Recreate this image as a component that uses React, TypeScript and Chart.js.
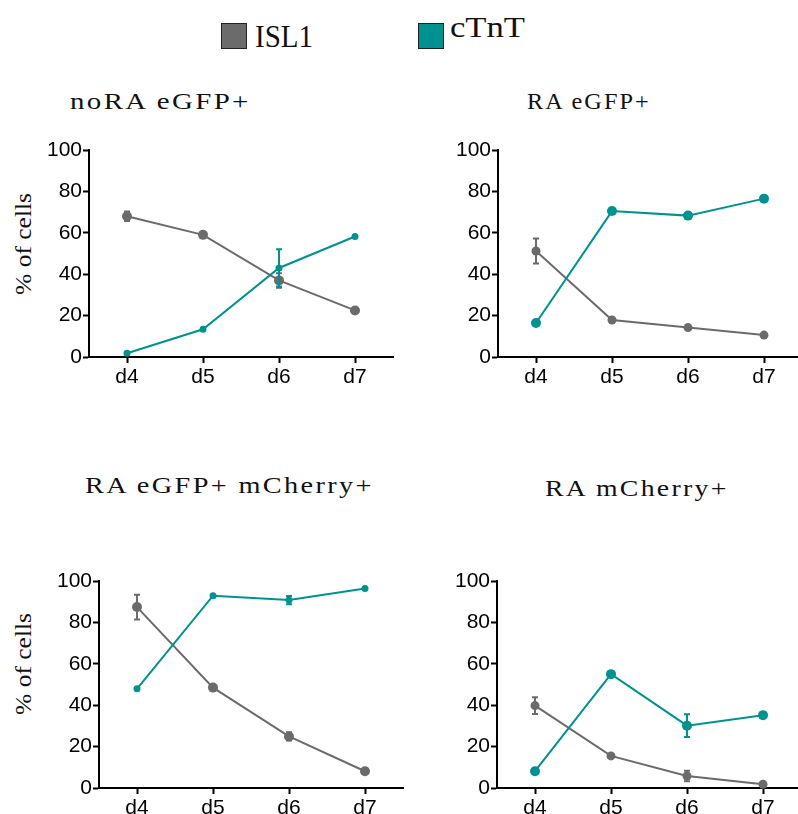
import React, { useEffect, useRef } from 'react';
import { Chart, registerables } from 'chart.js';

Chart.register(...registerables);

// ---------- data ----------
const categories = ['d4', 'd5', 'd6', 'd7'];
const yTickValues = [0, 20, 40, 60, 80, 100];
const seriesNames = ['ISL1', 'cTnT'];
const panelTitles = ['noRA eGFP+', 'RA eGFP+', 'RA eGFP+ mCherry+', 'RA mCherry+'];
const yAxisTitle = '% of cells';

const noRaIsl1 = [68, 59, 37, 22.5];
const noRaIsl1Err = [2.3, 0, 3.5, 0];
const noRaCtnt = [1.8, 13.4, 43, 58.2];
const noRaCtntErr = [0, 0, 9, 0];

const raEgfpIsl1 = [51.2, 17.9, 14.2, 10.6];
const raEgfpIsl1Err = [6, 0, 0, 0];
const raEgfpCtnt = [16.4, 70.5, 68.3, 76.5];
const raEgfpCtntErr = [0, 0, 0, 0];

const raBothIsl1 = [87.4, 48.5, 24.9, 8.1];
const raBothIsl1Err = [6, 0, 2, 0];
const raBothCtnt = [47.9, 92.9, 90.8, 96.4];
const raBothCtntErr = [0, 0, 2, 0];

const raMchIsl1 = [39.8, 15.5, 5.8, 1.8];
const raMchIsl1Err = [4, 0, 2.5, 0];
const raMchCtnt = [8.1, 55, 30.1, 35.2];
const raMchCtntErr = [0, 0, 5.5, 0];

// ---------- styles ----------
const GRAY = '#6b6b6b';
const TEAL = '#009191';
const SERIF = "'Liberation Serif', 'Times New Roman', serif";
const SANS = "'Liberation Sans', Arial, sans-serif";

const AXIS_W = 89;
const PLOT_W = 309;
const PLOT_H = 207;
const PAD_TOP = 20;
const X_AXIS_H = 45;

const errorBarPlugin = {
  id: 'errorBars',
  beforeDatasetDraw(chart: any, args: any) {
    const ds: any = chart.data.datasets[args.index];
    const errs: number[] | undefined = ds.errors;
    if (!errs) return;
    const yScale = chart.scales.y;
    const ctx = chart.ctx;
    ctx.save();
    ctx.strokeStyle = ds.borderColor;
    ctx.lineWidth = 2;
    args.meta.data.forEach((pt: any, i: number) => {
      const e = errs[i];
      if (!e) return;
      const v = ds.data[i];
      const yT = yScale.getPixelForValue(v + e);
      const yB = yScale.getPixelForValue(v - e);
      const x = pt.x;
      ctx.beginPath();
      ctx.moveTo(x, yT);
      ctx.lineTo(x, yB);
      ctx.moveTo(x - 3, yT);
      ctx.lineTo(x + 3, yT);
      ctx.moveTo(x - 3, yB);
      ctx.lineTo(x + 3, yB);
      ctx.stroke();
    });
    ctx.restore();
  },
};

type PanelProps = {
  axisX: number;
  chartTop: number;
  isl1: number[];
  isl1Err: number[];
  ctnt: number[];
  ctntErr: number[];
  isl1R: number;
  ctntR: number;
};

function Panel(p: PanelProps) {
  const ref = useRef<HTMLCanvasElement | null>(null);
  useEffect(() => {
    if (!ref.current) return;
    const tickFont = { family: SANS, size: 21 };
    const chart = new Chart(ref.current, {
      type: 'line',
      data: {
        labels: categories,
        datasets: [
          {
            label: seriesNames[0],
            data: p.isl1,
            errors: p.isl1Err,
            borderColor: GRAY,
            backgroundColor: GRAY,
            pointBackgroundColor: GRAY,
            pointBorderWidth: 0,
            pointRadius: p.isl1R,
            borderWidth: 2,
            tension: 0,
            order: 1,
            clip: false,
          } as any,
          {
            label: seriesNames[1],
            data: p.ctnt,
            errors: p.ctntErr,
            borderColor: TEAL,
            backgroundColor: TEAL,
            pointBackgroundColor: TEAL,
            pointBorderWidth: 0,
            pointRadius: p.ctntR,
            borderWidth: 2,
            tension: 0,
            order: 0,
            clip: false,
          } as any,
        ],
      },
      options: {
        animation: false,
        responsive: false,
        devicePixelRatio: 1,
        events: [],
        layout: { padding: { top: PAD_TOP, left: 0, right: 0, bottom: 0 } },
        plugins: { legend: { display: false }, tooltip: { enabled: false } },
        scales: {
          x: {
            type: 'category',
            offset: true,
            grid: {
              display: true,
              offset: false,
              drawOnChartArea: false,
              drawTicks: true,
              tickLength: 6,
              tickWidth: 2,
              tickColor: '#000',
            },
            border: { display: true, color: '#000', width: 2 },
            ticks: { font: tickFont, color: '#000', padding: 2, maxRotation: 0 },
            afterFit: (s: any) => {
              s.height = X_AXIS_H;
            },
          },
          y: {
            min: 0,
            max: 100,
            afterBuildTicks: (s: any) => {
              s.ticks = yTickValues.map((v) => ({ value: v }));
            },
            grid: {
              display: true,
              drawOnChartArea: false,
              drawTicks: true,
              tickLength: 6,
              tickWidth: 2,
              tickColor: '#000',
            },
            border: { display: true, color: '#000', width: 2 },
            ticks: { font: tickFont, color: '#000', padding: 1 },
            afterFit: (s: any) => {
              s.width = AXIS_W;
            },
          },
        },
      } as any,
      plugins: [errorBarPlugin],
    });
    return () => chart.destroy();
  }, []);
  const w = AXIS_W + PLOT_W;
  const h = PAD_TOP + PLOT_H + X_AXIS_H;
  return (
    <canvas
      ref={ref}
      width={w}
      height={h}
      style={{ position: 'absolute', left: p.axisX - AXIS_W, top: p.chartTop - PAD_TOP, width: w, height: h }}
    />
  );
}

let measureCtx: CanvasRenderingContext2D | null = null;
function measure(text: string, font: string) {
  if (!measureCtx) measureCtx = document.createElement('canvas').getContext('2d');
  measureCtx!.font = font;
  return measureCtx!.measureText(text).width || 1;
}

function FitText(props: { text: string; left: number; right: number; baseline: number; size: number; spacing?: number }) {
  const { text, left, right, baseline, size } = props;
  const spacing = props.spacing || 0;
  const w = measure(text, `${size}px ${SERIF}`) + spacing * (text.length - 1);
  const s = (right - left) / w;
  return (
    <div
      style={{
        position: 'absolute',
        left,
        top: baseline - 0.8375 * size,
        fontFamily: SERIF,
        fontSize: size,
        lineHeight: `${size}px`,
        letterSpacing: spacing,
        whiteSpace: 'nowrap',
        transformOrigin: '0 0',
        transform: `scaleX(${s})`,
        color: '#111',
      }}
    >
      {text}
    </div>
  );
}

function VText(props: { text: string; cx: number; cy: number; length: number; size: number }) {
  const { text, cx, cy, length, size } = props;
  const w = measure(text, `${size}px ${SERIF}`);
  const s = length / w;
  return (
    <div
      style={{
        position: 'absolute',
        left: cx - w / 2,
        top: cy - size / 2,
        width: w,
        height: size,
        fontFamily: SERIF,
        fontSize: size,
        lineHeight: `${size}px`,
        whiteSpace: 'nowrap',
        transformOrigin: 'center center',
        transform: `rotate(-90deg) scaleX(${s})`,
        color: '#111',
      }}
    >
      {text}
    </div>
  );
}

function LegendBox(props: { left: number; top: number; color: string }) {
  return (
    <div
      style={{
        position: 'absolute',
        left: props.left,
        top: props.top,
        width: 26,
        height: 26,
        boxSizing: 'border-box',
        background: props.color,
        border: '1.5px solid #222',
      }}
    />
  );
}

export default function App() {
  return (
    <div
      style={{
        position: 'fixed',
        left: 0,
        top: 0,
        width: 798,
        height: 814,
        overflow: 'hidden',
        background: '#fff',
      }}
    >
      <LegendBox left={221} top={23} color={GRAY} />
      <FitText text={seriesNames[0]} left={255} right={313} baseline={47} size={31} />
      <LegendBox left={418} top={23} color={TEAL} />
      <FitText text={seriesNames[1]} left={450} right={525} baseline={37} size={29} />

      <FitText text={panelTitles[0]} left={70} right={250} baseline={109} size={24} spacing={2} />
      <FitText text={panelTitles[1]} left={527} right={650} baseline={109} size={24} spacing={2} />
      <FitText text={panelTitles[2]} left={85} right={373} baseline={493} size={24} spacing={2} />
      <FitText text={panelTitles[3]} left={545} right={728} baseline={496} size={24} spacing={2} />

      <VText text={yAxisTitle} cx={23} cy={244} length={102} size={24} />
      <VText text={yAxisTitle} cx={23} cy={664} length={102} size={24} />

      <Panel axisX={89} chartTop={150} isl1={noRaIsl1} isl1Err={noRaIsl1Err} ctnt={noRaCtnt} ctntErr={noRaCtntErr} isl1R={5} ctntR={3.5} />
      <Panel axisX={498} chartTop={150} isl1={raEgfpIsl1} isl1Err={raEgfpIsl1Err} ctnt={raEgfpCtnt} ctntErr={raEgfpCtntErr} isl1R={4.5} ctntR={5} />
      <Panel axisX={99} chartTop={581} isl1={raBothIsl1} isl1Err={raBothIsl1Err} ctnt={raBothCtnt} ctntErr={raBothCtntErr} isl1R={5} ctntR={3.5} />
      <Panel axisX={497} chartTop={581} isl1={raMchIsl1} isl1Err={raMchIsl1Err} ctnt={raMchCtnt} ctntErr={raMchCtntErr} isl1R={4.5} ctntR={5} />
    </div>
  );
}
